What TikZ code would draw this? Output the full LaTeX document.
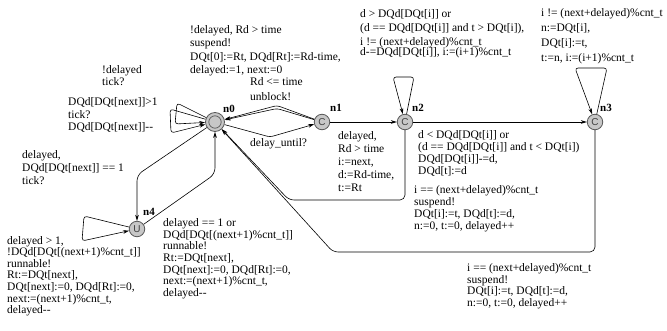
\documentclass[tikz,border=0pt]{standalone}
\usepackage{fontspec}
\setmainfont{Liberation Serif}[Ligatures=TeXOff]
\newfontfamily\statefont{Liberation Sans}
\usetikzlibrary{arrows.meta}
\begin{document}
\begin{tikzpicture}[x=1pt,y=-1pt,
  edge/.style={draw=black, line width=0.6pt, rounded corners=3pt,
    -{Stealth[length=6pt,width=3.6pt]}},
  loc/.style={circle, draw=black!65, line width=0.8pt, fill=black!22,
    minimum size=15.5pt, inner sep=0pt,
    font=\statefont\fontsize{10}{10}\selectfont, text=black!75},
  init/.style={loc, minimum size=19pt,
    path picture={\draw[black!65, line width=0.7pt]
      (path picture bounding box.center) circle (6.2pt);}},
  tag/.style={font=\bfseries\fontsize{11}{11}\selectfont, inner sep=0pt},
  lbl/.style={anchor=north west, align=left, inner sep=0pt,
    font=\fontsize{11.5pt}{#1}\selectfont},
  lbl/.default=12.5pt]
\useasboundingbox (0,0) rectangle (667,331);

% locations
\node[init] (n0) at (215,122) {};
\node[loc]  (n1) at (322,122) {C};
\node[loc]  (n2) at (405,122) {C};
\node[loc]  (n3) at (595,122) {C};
\node[loc]  (n4) at (137,229) {U};

\node[tag] (t0) at (229,109) {n0};
\node[tag] (t1) at (336,108) {n1};
\node[tag] (t2) at (418,108) {n2};
\node[tag] (t3) at (606,108) {n3};
\node[tag] (t4) at (149,212) {n4};

% transitions
\draw[edge] (n0) -- (177,103) -- (175,124) -- (n0);
\draw[edge] (n0) -- (170,109) -- (171,133) -- (n0);
\draw[edge] (n1) -- (277,105.5) -- (n0);
\draw[edge] (n1) -- (277,108.5) -- (n0);
\draw[edge] (n0) -- (270,137) -- (n1);
\draw[edge] (n1) -- (n2);
\draw[edge] (n2) -- (n3);
\draw[edge] (n2) -- (414,77) -- (393,77) -- (n2);
\draw[edge] (n3) -- (607,68) -- (575,68) -- (n3);
\draw[edge, rounded corners=5pt] (n2) -- (405,200) -- (289,200) -- (n0);
\draw[edge, rounded corners=5pt] (n3) -- (595,252) -- (333,252) -- (n0);
\draw[edge, rounded corners=6pt] (n0) -- (137,175) -- (n4);
\draw[edge, rounded corners=6pt] (n4) -- (215,174) -- (n0);
\draw[edge] (n4) -- (84,216) -- (82,241) -- (n4);

% guards, synchronisations and updates
\node[lbl=13.3pt] (l1) at (190,25.5)
  {!delayed, Rd > time\\suspend!\\DQt[0]:=Rt, DQd[Rt]:=Rd-time,\\delayed:=1, next:=0};
\node[lbl=14.5pt] (l2) at (250,77.5) {Rd <= time\\unblock!};
\node[lbl] (l3) at (250,138.5) {delay\_until?};
\node[lbl=12pt] (l4) at (102,65.5) {!delayed\\tick?};
\node[lbl] (l5) at (68,97.5) {DQd[DQt[next]]>1\\tick?\\DQd[DQt[next]]--};
\node[lbl=13pt] (l6) at (22,150.5) {delayed,\\DQd[DQt[next]] == 1\\tick?};
\node[lbl=11.6pt] (l7) at (7,236)
  {delayed > 1,\\!DQd[DQt[(next+1)\%cnt\_t]]\\runnable!\\Rt:=DQt[next],\\DQt[next]:=0, DQd[Rt]:=0,\\next:=(next+1)\%cnt\_t,\\delayed--};
\node[lbl=11.6pt] (l8) at (163,218.5)
  {delayed == 1 or\\DQd[DQt[(next+1)\%cnt\_t]]\\runnable!\\Rt:=DQt[next],\\DQt[next]:=0, DQd[Rt]:=0,\\next:=(next+1)\%cnt\_t,\\delayed--};
\node[lbl=13pt] (l9) at (338,131.5) {delayed,\\Rd > time\\i:=next,\\d:=Rd-time,\\t:=Rt};
\node[lbl=12pt] (l10) at (418,130.5)
  {d < DQd[DQt[i]] or\\(d == DQd[DQt[i]] and t < DQt[i])\\DQd[DQt[i]]-=d,\\DQd[t]:=d};
\node[lbl=12pt] (l11) at (414,185.5)
  {i == (next+delayed)\%cnt\_t\\suspend!\\DQt[i]:=t, DQd[t]:=d,\\n:=0, t:=0, delayed++};
\node[lbl=11.5pt] (l12) at (467,263.5)
  {i == (next+delayed)\%cnt\_t\\suspend!\\DQt[i]:=t, DQd[t]:=d,\\n:=0, t:=0, delayed++};
\node[lbl=14pt] (l13) at (360,9.5)
  {d > DQd[DQt[i]] or\\(d == DQd[DQt[i]] and t > DQt[i]),\\i != (next+delayed)\%cnt\_t};
\node[lbl] (l13b) at (360,47.5) {d-=DQd[DQt[i]], i:=(i+1)\%cnt\_t};
\node[lbl=15pt] (l14) at (541,8.5)
  {i != (next+delayed)\%cnt\_t\\n:=DQt[i],\\DQt[i]:=t,\\t:=n, i:=(i+1)\%cnt\_t};
\end{tikzpicture}
\end{document}
